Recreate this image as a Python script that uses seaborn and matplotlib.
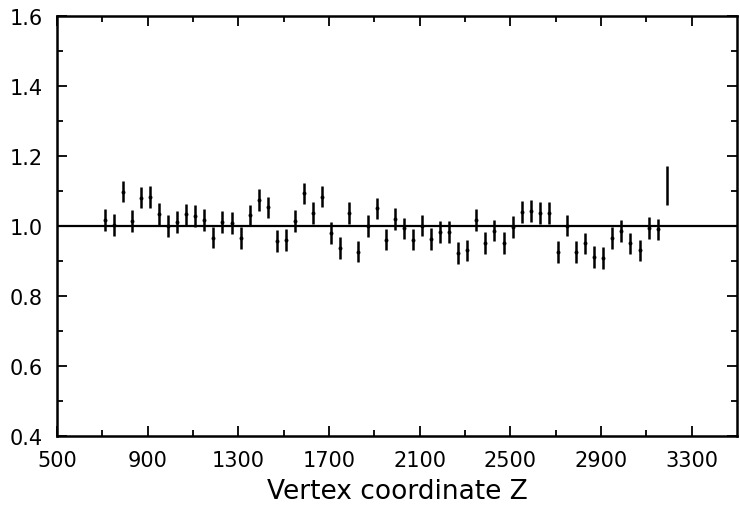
import numpy as np
import pandas as pd
import matplotlib
matplotlib.use("Agg")
import matplotlib.pyplot as plt
import seaborn as sns

# bin centres along Z (63 bins, 40 wide)
z_start = 710
z_step = 40
ratio = [1.017, 1.003, 1.098, 1.014, 1.081, 1.083, 1.035, 1.000, 1.012, 1.033,
         1.029, 1.016, 0.967, 1.012, 1.008, 0.965, 1.030, 1.074, 1.053, 0.958,
         0.960, 1.015, 1.093, 1.036, 1.084, 0.979, 0.937, 1.036, 0.927, 0.999,
         1.050, 0.961, 1.020, 0.993, 0.961, 1.001, 0.963, 0.982, 0.982, 0.923,
         0.930, 1.017, 0.951, 0.987, 0.951, 0.996, 1.039, 1.042, 1.036, 1.037,
         0.925, 1.001, 0.925, 0.950, 0.911, 0.909, 0.966, 0.985, 0.950, 0.930,
         0.995, 0.990, 1.115]
ratio_err = [0.031] * 62 + [0.055]

x_ticks = [500, 900, 1300, 1700, 2100, 2500, 2900, 3300]
y_ticks = [0.4, 0.6, 0.8, 1.0, 1.2, 1.4, 1.6]

df = pd.DataFrame({
    "z": z_start + z_step * np.arange(len(ratio)),
    "ratio": ratio,
    "err": ratio_err,
})

sns.set_style("ticks")
plt.rcParams["font.family"] = ["DejaVu Sans"]
plt.rcParams["text.color"] = "black"
plt.rcParams["axes.labelcolor"] = "black"
plt.rcParams["xtick.color"] = "black"
plt.rcParams["ytick.color"] = "black"

fig = plt.figure(figsize=(7.4, 5.1), dpi=100)
ax = fig.add_axes([0.077, 0.143, 0.919, 0.824])

ax.axhline(1.0, color="black", lw=1.6, zorder=1)
ax.errorbar(df["z"], df["ratio"], yerr=df["err"], fmt="none",
            ecolor="black", elinewidth=1.8, capsize=0, zorder=2)
sns.scatterplot(data=df.iloc[:-1], x="z", y="ratio", ax=ax, color="black",
                s=8, marker="o", linewidth=0, zorder=3)

ax.set_xlim(500, 3500)
ax.set_ylim(0.4, 1.6)
ax.set_xticks(x_ticks)
ax.set_xticks(np.arange(700, 3500, 400), minor=True)
ax.set_yticks(y_ticks)
ax.set_yticklabels([f"{v:.1f}" for v in y_ticks])
ax.set_yticks(np.arange(0.5, 1.6, 0.2), minor=True)

ax.tick_params(which="both", direction="in", top=True, right=True,
               color="black", labelcolor="black", width=1.3)
ax.tick_params(which="major", length=7, labelsize=15)
ax.tick_params(axis="x", which="major", pad=10)
ax.tick_params(axis="y", which="major", pad=10)
ax.tick_params(which="minor", length=4)
for s in ax.spines.values():
    s.set_linewidth(1.8)
    s.set_color("black")

ax.set_xlabel("Vertex coordinate Z", fontsize=19, labelpad=6, color="black")
ax.set_ylabel("")

fig.savefig("out.png", dpi=100)
